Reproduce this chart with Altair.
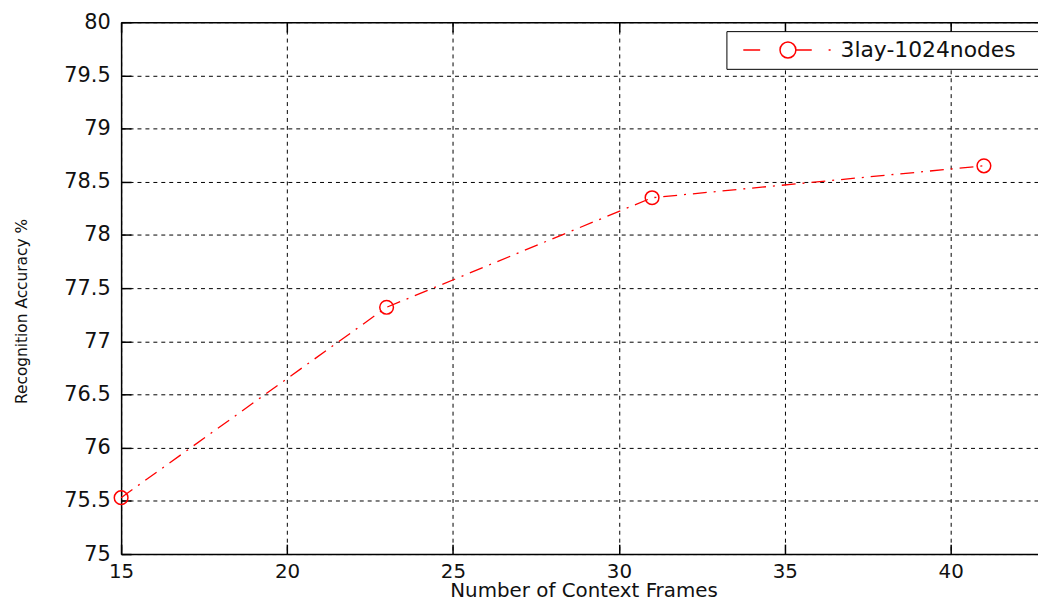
import altair as alt
import pandas as pd

# ---- data ----
frames = [15, 23, 31, 41]
accuracy = [75.53, 77.32, 78.35, 78.65]
series_name = "3lay-1024nodes"
x_ticks = [15, 20, 25, 30, 35, 40]
y_ticks = [75, 75.5, 76, 76.5, 77, 77.5, 78, 78.5, 79, 79.5, 80]
x_title = "Number of Context Frames"
y_title = "Recognition Accuracy %"

df = pd.DataFrame({"frames": frames, "accuracy": accuracy,
                   "series": [series_name] * len(frames)})

W, H = 924, 536
FONT = "DejaVu Sans"
TXT = "#111111"

xscale = alt.Scale(domain=[15, 42.63], nice=False, zero=False)
yscale = alt.Scale(domain=[75, 80], nice=False, zero=False)

# main axes: labels, titles, dashed grid, domain lines
x_main = alt.X("frames:Q", scale=xscale, axis=alt.Axis(
    orient="bottom", values=x_ticks, format="~g", grid=True, gridDash=[4, 4],
    gridColor="black", gridOpacity=1, gridWidth=1, ticks=False,
    domainColor="black", domainWidth=1.5, labelFont=FONT, labelFontSize=20,
    labelColor=TXT, labelPadding=8, labelFlush=False, labelOverlap=False,
    title=x_title, titleFont=FONT,
    titleFontSize=20, titleFontWeight="normal", titleColor=TXT,
    titleX=466, titleY=43, titleBaseline="alphabetic", titleAlign="center"))
y_main = alt.Y("accuracy:Q", scale=yscale, axis=alt.Axis(
    orient="left", values=y_ticks, format="~g", grid=True, gridDash=[4, 4],
    gridColor="black", gridOpacity=1, gridWidth=1, ticks=False,
    domainColor="black", domainWidth=1.5, labelFont=FONT, labelFontSize=21,
    labelColor=TXT, labelPadding=11, labelFlush=False, labelOverlap=False,
    title=y_title, titleFont=FONT,
    titleFontSize=15.5, titleFontWeight="normal", titleColor=TXT,
    titleX=-100, titleY=291, titleAngle=270, titleBaseline="middle",
    titleAlign="center"))

line = alt.Chart(df).mark_line(
    color="red", strokeWidth=1.3, strokeDash=[14, 7, 2, 7]
).encode(x=x_main, y=y_main)

legend_path = ("M-0.2,0H1.5M3.5,0A0.8,0.8 0 1,1 5.1,0A0.8,0.8 0 1,1 3.5,0"
               "M5.1,0H6.7M8.4,0H8.6M30,0H30")

# points: inward ticks at bottom and left
x_in_bottom = alt.X("frames:Q", scale=xscale, axis=alt.Axis(
    orient="top", offset=-H, values=x_ticks, labels=False, domain=False,
    grid=False, ticks=True, tickSize=10, tickColor="black", tickWidth=1.5,
    title=""))
y_in_left = alt.Y("accuracy:Q", scale=yscale, axis=alt.Axis(
    orient="right", offset=-W, values=y_ticks, labels=False, domain=False,
    grid=False, ticks=True, tickSize=10, tickColor="black", tickWidth=1.5,
    title=""))

points = alt.Chart(df).mark_point(
    filled=False, size=190, strokeWidth=1.5, opacity=1
).encode(
    x=x_in_bottom, y=y_in_left,
    color=alt.Color("series:N", scale=alt.Scale(domain=[series_name], range=["red"]),
                    legend=alt.Legend(
                        title=None, orient="none", legendX=610, legendY=9,
                        symbolType=legend_path, symbolSize=400,
                        symbolStrokeColor="red", symbolFillColor="transparent",
                        symbolStrokeWidth=1.5, labelFont=FONT, labelFontSize=22,
                        labelColor=TXT, labelOffset=85, labelLimit=400,
                        padding=8, strokeColor="black", fillColor="white",
                        cornerRadius=0))
)

# invisible layer: top border with inward ticks
x_top = alt.X("frames:Q", scale=xscale, axis=alt.Axis(
    orient="bottom", offset=-H, values=x_ticks, labels=False, domain=True,
    domainColor="black", domainWidth=1.5, grid=False, ticks=True, tickSize=10,
    tickColor="black", tickWidth=1.5, title=""))
top = alt.Chart(df).mark_point(opacity=0).encode(
    x=x_top, y=alt.Y("accuracy:Q", scale=yscale, axis=None))

chart = alt.layer(line, points, top).resolve_axis(
    x="independent", y="independent"
).properties(
    width=W, height=H,
    padding={"left": 114, "top": 12, "right": 0, "bottom": 48},
    autosize=alt.AutoSizeParams(type="none"),
    background="white",
).configure_view(stroke="transparent")

chart.save("out.html", embed_options={"renderer": "svg", "actions": False})
